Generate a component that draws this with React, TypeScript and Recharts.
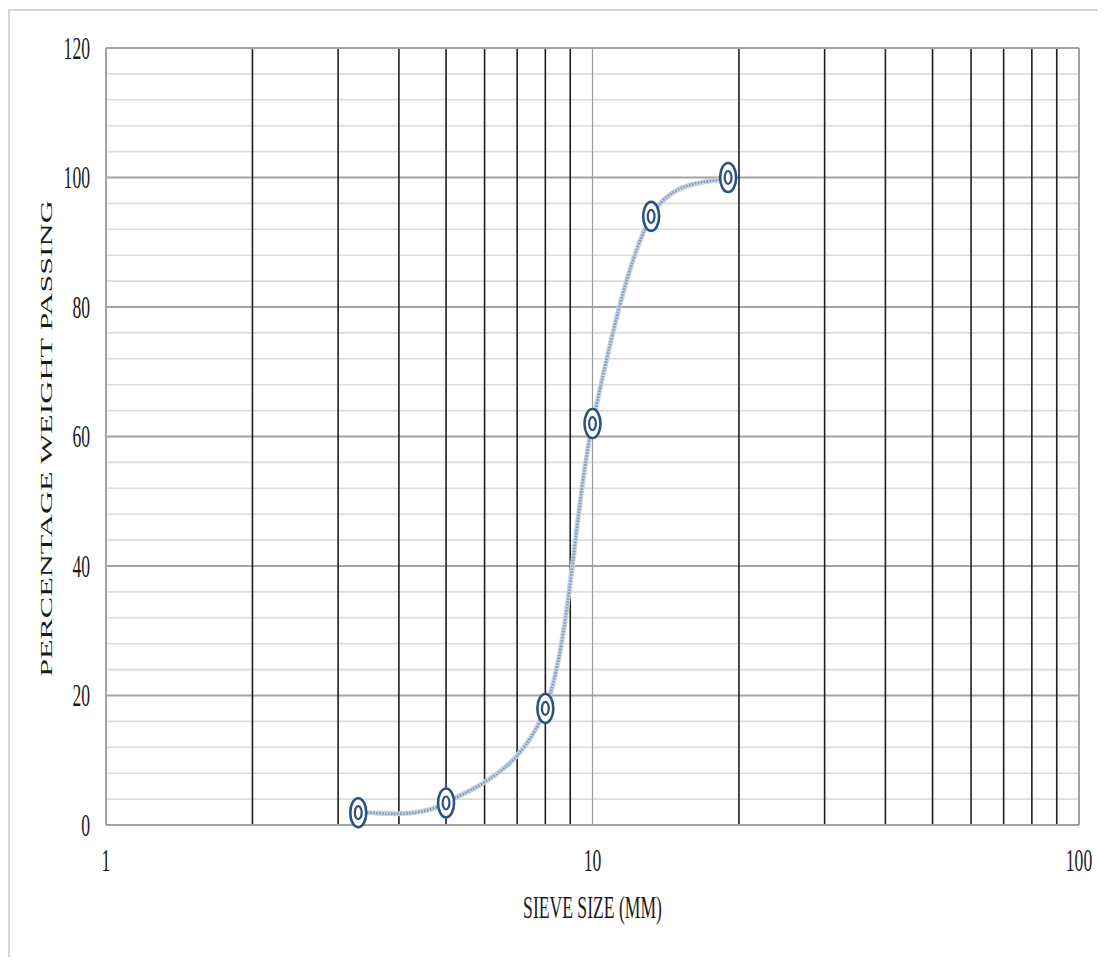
import React from 'react'
import { LineChart, Line, XAxis, YAxis, ReferenceLine } from 'recharts'

// sieve analysis: size in mm vs cumulative % passing
const sieveSizes = [3.3, 5, 8, 10, 13.2, 19]
const percentPassing = [1.9, 3.4, 18, 62, 94, 100]

const xTicks = [1, 10, 100]
const yTicks = [0, 20, 40, 60, 80, 100, 120]

// log-cycle grid lines (2..9, 20..90) and minor horizontal lines every 4%
const xCycleLines = [2, 3, 4, 5, 6, 7, 8, 9, 20, 30, 40, 50, 60, 70, 80, 90]
const yMajorLines = [20, 40, 60, 80, 100]
const yMinorLines = [4, 8, 12, 16, 24, 28, 32, 36, 44, 48, 52, 56, 64, 68, 72, 76, 84, 88, 92, 96, 104, 108, 112, 116]

const data = sieveSizes.map((size, i) => ({ size, passing: percentPassing[i] }))

const FONT = '"Liberation Serif", "Times New Roman", serif'
const SQUEEZE = 0.55

// Excel-style smoothed line (cardinal spline through every point)
function smoothCurve(context: any) {
  let pts: number[][] = []
  return {
    areaStart() {},
    areaEnd() {},
    lineStart() {
      pts = []
    },
    point(x: number, y: number) {
      pts.push([+x, +y])
    },
    lineEnd() {
      if (!pts.length) return
      context.moveTo(pts[0][0], pts[0][1])
      for (let i = 0; i < pts.length - 1; i++) {
        const p0 = pts[i - 1] || pts[i]
        const p1 = pts[i]
        const p2 = pts[i + 1]
        const p3 = pts[i + 2] || p2
        context.bezierCurveTo(
          p1[0] + (p2[0] - p0[0]) / 6,
          p1[1] + (p2[1] - p0[1]) / 6,
          p2[0] - (p3[0] - p1[0]) / 6,
          p2[1] - (p3[1] - p1[1]) / 6,
          p2[0],
          p2[1]
        )
      }
    },
  }
}

function XTick({ x, y, payload }: any) {
  return (
    <text
      transform={`translate(${x},${y + 35}) scale(${SQUEEZE},1)`}
      textAnchor="middle"
      dominantBaseline="central"
      fontFamily={FONT}
      fontSize={32}
      fill="#1a1a1a"
    >
      {payload.value}
    </text>
  )
}

function YTick({ x, y, payload }: any) {
  return (
    <text
      transform={`translate(${x - 16},${y}) scale(${SQUEEZE},1)`}
      textAnchor="end"
      dominantBaseline="central"
      fontFamily={FONT}
      fontSize={32}
      fill="#1a1a1a"
    >
      {payload.value}
    </text>
  )
}

function XTitle({ viewBox }: any) {
  const cx = viewBox.x + viewBox.width / 2
  const cy = viewBox.y + 82
  return (
    <text
      transform={`translate(${cx},${cy}) scale(${SQUEEZE},1)`}
      textAnchor="middle"
      dominantBaseline="central"
      fontFamily={FONT}
      fontSize={32}
      fill="#1a1a1a"
    >
      SIEVE  SIZE (MM)
    </text>
  )
}

function YTitle({ viewBox }: any) {
  const cx = 38
  const cy = viewBox.y + viewBox.height / 2 + 2
  return (
    <text
      transform={`translate(${cx},${cy}) scale(0.5,1) rotate(-90)`}
      textAnchor="middle"
      dominantBaseline="central"
      fontFamily={FONT}
      fontSize={32}
      fill="#1a1a1a"
    >
      PERCENTAGE WEIGHT PASSING
    </text>
  )
}

function RingDot({ cx, cy, index }: any) {
  return (
    <g key={`ring-${index}`}>
      <ellipse cx={cx} cy={cy} rx={8} ry={14.5} fill="#fff" stroke="#2c5283" strokeWidth={2.6} />
      <ellipse cx={cx} cy={cy} rx={3.4} ry={6.5} fill="#fff" stroke="#2c5283" strokeWidth={2.2} />
    </g>
  )
}

export default function App() {
  return (
    <div style={{ position: 'relative', width: 1090, height: 949, overflow: 'hidden', background: '#fff' }}>
      <div
        style={{
          position: 'absolute',
          left: 0,
          top: 1,
          width: 2000,
          height: 2000,
          borderLeft: '2px solid #d6d6d6',
          borderTop: '2px solid #d6d6d6',
        }}
      />
      <div style={{ position: 'absolute', left: 0, top: 0 }}>
        <LineChart width={1090} height={940} data={data} margin={{ top: 40, right: 19, bottom: 23, left: 0 }}>
          {yMinorLines.map((v) => (
            <ReferenceLine key={`ym-${v}`} y={v} stroke="#dcdcdc" strokeWidth={1.6} />
          ))}
          {yMajorLines.map((v) => (
            <ReferenceLine key={`yM-${v}`} y={v} stroke="#a3a3a3" strokeWidth={2} />
          ))}
          {xCycleLines.map((v) => (
            <ReferenceLine key={`x-${v}`} x={v} stroke="#1e1e1e" strokeWidth={1.6} />
          ))}
          <ReferenceLine x={10} stroke="#9a9a9a" strokeWidth={1.2} />
          <ReferenceLine y={0} stroke="#a3a3a3" strokeWidth={2} />
          <ReferenceLine y={120} stroke="#a3a3a3" strokeWidth={2} />
          <ReferenceLine x={1} stroke="#a3a3a3" strokeWidth={2} />
          <ReferenceLine x={100} stroke="#a3a3a3" strokeWidth={2} />
          <XAxis
            dataKey="size"
            type="number"
            scale="log"
            domain={[1, 100]}
            ticks={xTicks}
            allowDataOverflow
            axisLine={false}
            tickLine={false}
            tickSize={0}
            tickMargin={0}
            height={100}
            tick={<XTick />}
            label={<XTitle />}
          />
          <YAxis
            type="number"
            domain={[0, 120]}
            ticks={yTicks}
            axisLine={false}
            tickLine={false}
            tickSize={0}
            tickMargin={0}
            width={98}
            tick={<YTick />}
            label={<YTitle />}
          />
          <Line
            dataKey="passing"
            type={smoothCurve as any}
            stroke="#c3d1e0"
            strokeWidth={5}
            dot={false}
            activeDot={false}
            isAnimationActive={false}
          />
          <Line
            dataKey="passing"
            type={smoothCurve as any}
            stroke="#8499b3"
            strokeWidth={2.4}
            strokeDasharray="1.5 1.5"
            dot={<RingDot />}
            activeDot={false}
            isAnimationActive={false}
          />
        </LineChart>
      </div>
    </div>
  )
}
